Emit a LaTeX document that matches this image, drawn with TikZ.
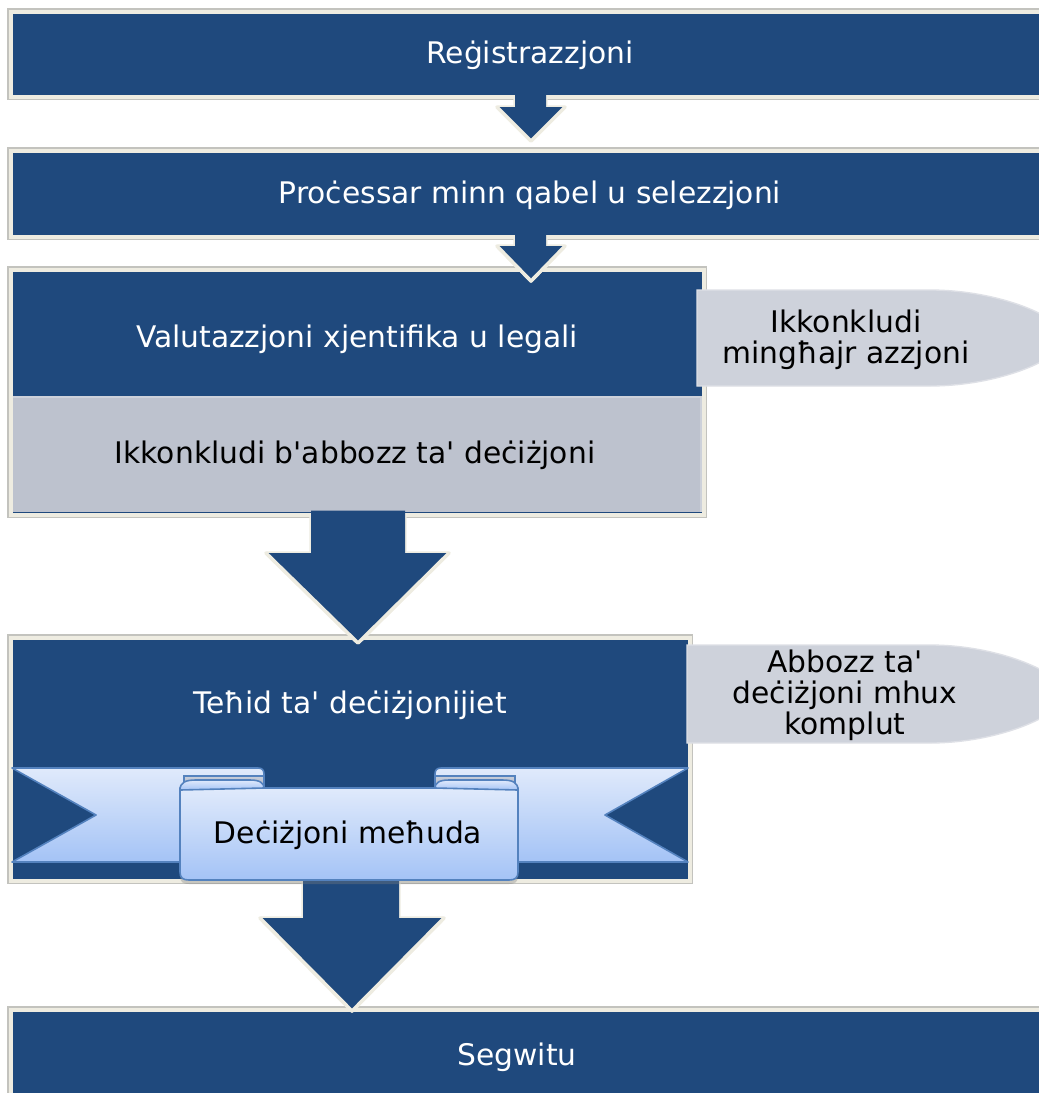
\documentclass[tikz,border=0pt]{standalone}
\usepackage{fontspec}
\setmainfont{DejaVu Sans}[Ligatures=TeXOff]
\usetikzlibrary{shadows}
\definecolor{dblue}{RGB}{31,73,125}
\definecolor{beige}{RGB}{238,236,225}
\definecolor{edgegray}{RGB}{195,195,190}
\definecolor{panelgray}{RGB}{189,194,206}
\definecolor{paneledge}{RGB}{205,209,218}
\definecolor{callgray}{RGB}{206,210,219}
\definecolor{calledge}{RGB}{222,224,230}
\definecolor{ribtop}{RGB}{224,234,251}
\definecolor{ribbot}{RGB}{164,195,246}
\definecolor{ribedge}{RGB}{84,130,190}
\definecolor{foldtop}{RGB}{200,206,218}
\definecolor{foldbot}{RGB}{160,170,190}
\newcommand\fs{\fontsize{22.3}{23.4}\selectfont}
\newcommand\flowarrow[8]{%
  \draw[beige,line width=2.6pt,line join=round] ({#1},{#3}) -- ({#1},{#4}) -- ({#5},{#4}) -- ({#7},{#8}) -- ({#6},{#4}) -- ({#2},{#4}) -- ({#2},{#3});
  \fill[dblue] ({#1},{#3-4}) -- ({#1},{#4}) -- ({#5},{#4}) -- ({#7},{#8}) -- ({#6},{#4}) -- ({#2},{#4}) -- ({#2},{#3-4}) -- cycle;
  \draw[beige,line width=2.6pt,line join=round] ({#5},{#4}) -- ({#7},{#8}) -- ({#6},{#4});
}
\begin{document}
\begin{tikzpicture}[x=0.75pt,y=-0.75pt,
  box/.style={fill=dblue,draw=beige,line width=3pt},
  boxedge/.style={draw=edgegray,line width=0.8pt},
  wtext/.style={text=white,font=\fs,inner sep=0pt},
  btext/.style={text=black,font=\fs,align=center,inner sep=0pt},
  callout/.style={fill=callgray,draw=calledge,line width=1pt},
  ribbon/.style={top color=ribtop,bottom color=ribbot,draw=ribedge,line width=1.2pt,line join=round},
  fold/.style={top color=foldtop,bottom color=foldbot,draw=ribedge,line width=1pt}]
\useasboundingbox (0,0) rectangle (1039,1093);
\clip (0,0) rectangle (1039,1093);
\fill[white] (0,0) rectangle (1039,1093);

% boxes
\draw[boxedge] (8,9) rectangle (1070,99);
\path[box] (10.5,11.5) rectangle (1070,96.5);
\draw[boxedge] (8,148) rectangle (1070,239.5);
\path[box] (10.5,150.5) rectangle (1070,237);
\draw[boxedge] (8,267) rectangle (706,517);
\path[box] (10.5,269.5) rectangle (703.5,514.5);
\fill[panelgray] (13,397) rectangle (701,512);
\draw[paneledge,line width=1pt] (13,397) -- (701,397) -- (701,512);
\draw[boxedge] (8,635) rectangle (692,883);
\path[box] (10.5,637.5) rectangle (689.5,880.5);
\draw[boxedge] (8,1007) rectangle (1070,1110);
\path[box] (10.5,1009.5) rectangle (1070,1110);

% arrows
\flowarrow{515}{546}{96.5}{107}{497}{565}{531}{141}
\flowarrow{515}{546}{237}{246}{497}{565}{531}{281}
\flowarrow{311}{405}{514.5}{553}{266}{449}{358}{643}
\flowarrow{303}{399}{880.5}{918}{260}{444}{352}{1011}

% callouts
\path[callout] (697,290) -- (930,290) .. controls (1000,290) and (1065,318) .. (1065,338)
  .. controls (1065,358) and (1000,386) .. (930,386) -- (697,386) -- cycle;
\path[callout] (687,645) -- (930,645) .. controls (1000,645) and (1065,674) .. (1065,694)
  .. controls (1065,714) and (1000,743) .. (930,743) -- (687,743) -- cycle;

% ribbon ends
\path[ribbon] (12,768) -- (258,768) .. controls (262,768) and (264,770) .. (264,774)
  -- (264,862) -- (12,862) -- (96,815) -- cycle;
\path[ribbon] (688,768) -- (441,768) .. controls (437,768) and (435,770) .. (435,774)
  -- (435,862) -- (688,862) -- (605,815) -- cycle;
% folds
\path[fold] (184,792) -- (184,776) -- (264,776) -- (264,792) -- cycle;
\path[fold] (515,792) -- (515,776) -- (435,776) -- (435,792) -- cycle;
% centre banner
\path[ribbon,drop shadow={opacity=0.35,shadow xshift=0pt,shadow yshift=-3pt}]
  (180,788) -- (180,872) .. controls (180,878) and (183,880) .. (189,880)
  -- (509,880) .. controls (515,880) and (518,878) .. (518,872) -- (518,788) -- cycle;
\path[ribbon] (180,790) .. controls (180,782) and (186,780) .. (196,780) -- (250,780)
  .. controls (260,780) and (264,783) .. (264,788) -- cycle;
\path[ribbon] (518,790) .. controls (518,782) and (512,780) .. (502,780) -- (449,780)
  .. controls (439,780) and (435,783) .. (435,788) -- cycle;

% texts
\node[wtext] (t1) at (530,55) {Reġistrazzjoni};
\node[wtext] (t2) at (530,195) {Proċessar minn qabel u selezzjoni};
\node[wtext] (t3) at (357,339) {Valutazzjoni xjentifika u legali};
\node[btext] (t3b) at (355,455) {Ikkonkludi b'abbozz ta' deċiżjoni};
\node[btext] (c1) at (846,340) {Ikkonkludi\\mingħajr azzjoni};
\node[wtext] (t4) at (350,705) {Teħid ta' deċiżjonijiet};
\node[btext] (c2) at (845,695) {Abbozz ta'\\deċiżjoni mhux\\komplut};
\node[btext] (t4b) at (348,835) {Deċiżjoni meħuda};
\node[wtext] (t5) at (517,1057) {Segwitu};
\end{tikzpicture}
\end{document}
